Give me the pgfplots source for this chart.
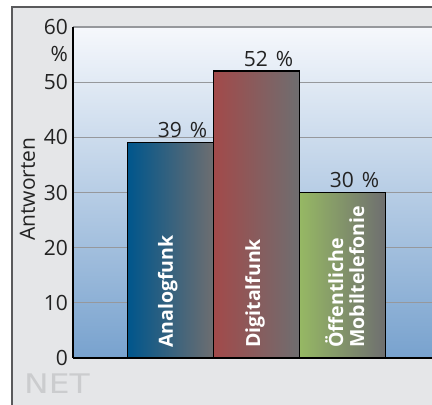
\documentclass[border=0pt]{standalone}
\usepackage{pgfplots}
\pgfplotsset{compat=1.18}
\usepackage{fontspec}
\setmainfont{Open Sans}
\newfontfamily\netfont{DejaVu Sans}
\usetikzlibrary{calc,backgrounds}
\definecolor{framebg}{RGB}{229,230,232}
\definecolor{framegray}{RGB}{90,90,92}
\definecolor{netgray}{RGB}{203,204,206}
\definecolor{bgtop}{RGB}{246,248,252}
\definecolor{bgbot}{RGB}{120,162,206}
\definecolor{gridgray}{RGB}{150,152,156}
\definecolor{txt}{RGB}{35,35,35}
\definecolor{b1l}{RGB}{0,86,140}
\definecolor{b2l}{RGB}{162,74,74}
\definecolor{b3l}{RGB}{150,184,100}
\definecolor{bright}{RGB}{110,110,112}
\newcommand{\reg}{\fontsize{21}{24}\selectfont}
\newcommand{\bld}{\bfseries\fontsize{19.5}{23}\selectfont}
\begin{document}
\begin{tikzpicture}
\begin{axis}[
  name=ax,
  scale only axis, width=359pt, height=331pt,
  xmin=-0.1366, xmax=4.0378, ymin=0, ymax=60,
  axis x line=bottom, axis y line=left,
  axis line style={-, draw=black, line width=1.4pt},
  axis background/.style={top color=bgtop, bottom color=bgbot},
  ytick={0,10,20,30,40,50,60},
  xtick=\empty,
  major tick length=0pt,
  ymajorgrids,
  major grid style={draw=gridgray, line width=1.3pt},
  /pgf/number format/assume math mode=true,
  yticklabel style={anchor=east, inner sep=0pt, xshift=-5pt, text=txt, font=\reg},
  ybar, bar width=86pt, bar shift=0pt,
  clip=false,
]
\addplot[draw=black, line width=1.3pt, left color=b1l, right color=bright] coordinates {(1,39)};
\addplot[draw=black, line width=1.3pt, left color=b2l, right color=bright] coordinates {(2,52)};
\addplot[draw=black, line width=1.3pt, left color=b3l, right color=bright] coordinates {(3,30)};
\node[anchor=base, inner sep=0pt, text=txt, font=\reg] at ($(axis cs:1,39)+(0,5pt)$) {39\hspace{8pt}\%};
\node[anchor=base, inner sep=0pt, text=txt, font=\reg] at ($(axis cs:2,52)+(0,5pt)$) {52\hspace{8pt}\%};
\node[anchor=base, inner sep=0pt, text=txt, font=\reg] at ($(axis cs:3,30)+(0,5pt)$) {30\hspace{8pt}\%};
\end{axis}
\coordinate (O) at ($(ax.south west)+(-73pt,-47pt)$);
\begin{scope}[shift={(O)}, x=1pt, y=1pt, every node/.style={inner sep=0pt}]
\begin{scope}[on background layer]
\fill[framebg] (12,0) rectangle (432,398);
\draw[framegray, line width=1.6pt] (12,0) -- (12,398) -- (432,398);
\node[text=netgray, anchor=base west, font=\netfont\fontsize{27}{30}\selectfont] at (24,12) {\scalebox{1.22}[1]{NET}};
\end{scope}
\node[anchor=base east, text=txt, font=\reg] at (68,343) {\%};
\node[rotate=90, anchor=base, text=txt, font=\reg] at (35,216) {Antworten};
\node[rotate=90, anchor=base west, text=white, font=\bld] at (173,57) {Analogfunk};
\node[rotate=90, anchor=base west, text=white, font=\bld] at (260,57) {Digitalfunk};
\node[rotate=90, anchor=base west, text=white, font=\bld] at (343,57) {Öffentliche};
\node[rotate=90, anchor=base west, text=white, font=\bld] at (364,57) {Mobiltelefonie};
\pgfresetboundingbox
\useasboundingbox (0,0) rectangle (432,405);
\end{scope}
\end{tikzpicture}
\end{document}
